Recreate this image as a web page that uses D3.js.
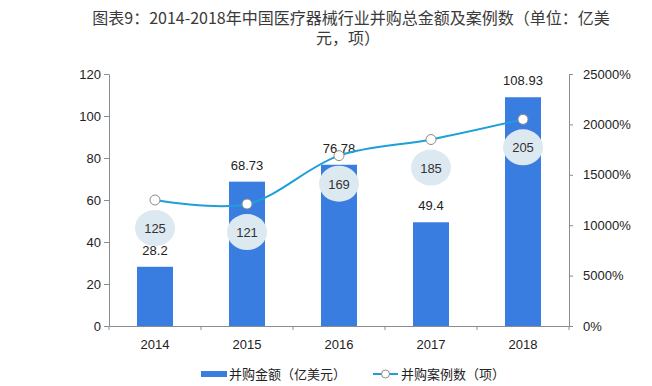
<!DOCTYPE html>
<html>
<head>
    <meta charset="utf-8">
    <title>medtech m&a</title>
    <script src="https://d3js.org/d3.v7.min.js"></script>
    <style>
        body { margin: 0; background: #fff; }
        text { font-family: "Liberation Sans", Arial, sans-serif; }
        .cn { font-family: "Noto Sans CJK SC", sans-serif; }
    </style>
</head>
<body>
    <svg width="652" height="386" id="mainsvg"></svg>
    <script>
        const years = ['2014', '2015', '2016', '2017', '2018'];
        const amounts = [28.2, 68.73, 76.78, 49.4, 108.93];   // 并购金额（亿美元）
        const deals = [125, 121, 169, 185, 205];              // 并购案例数（项）
        const leftTicks = [0, 20, 40, 60, 80, 100, 120];
        const rightTicks = [0, 50, 100, 150, 200, 250];
        const rightLabels = ['0%', '5000%', '10000%', '15000%', '20000%', '25000%'];
        const titleLines = ['图表9：2014-2018年中国医疗器械行业并购总金额及案例数（单位：亿美', '元，项）'];
        const legendNames = ['并购金额（亿美元）', '并购案例数（项）'];

        const svg = d3.select('#mainsvg');
        const pLeft = 109, pRight = 569, pTop = 74, pBottom = 326;
        const axisColor = '#8c8c8c';
        const barColor = '#3a7de0', lineColor = '#1f9fd9', bubbleColor = '#dde9f1';

        const x = d3.scaleBand().domain(years).range([pLeft, pRight]).padding(0);
        const yL = d3.scaleLinear().domain([0, 120]).range([pBottom, pTop]);
        const yR = d3.scaleLinear().domain([0, 250]).range([pBottom, pTop]);

        // title, two separate lines
        svg.append('g').selectAll('text').data(titleLines).enter().append('text')
            .attr('class', 'cn')
            .attr('x', (d, i) => i ? 348 : 351)
            .attr('y', (d, i) => 24 + i * 20)
            .attr('text-anchor', 'middle')
            .attr('font-size', 16).attr('fill', '#3a3a3a')
            .text(d => d);

        // bars
        const bw = 36;
        svg.append('g').selectAll('rect').data(amounts).enter().append('rect')
            .attr('x', (d, i) => x(years[i]) + x.bandwidth() / 2 - bw / 2)
            .attr('y', d => yL(d))
            .attr('width', bw)
            .attr('height', d => pBottom - yL(d))
            .attr('fill', barColor);

        svg.append('g').selectAll('text').data(amounts).enter().append('text')
            .attr('x', (d, i) => x(years[i]) + x.bandwidth() / 2)
            .attr('y', d => yL(d) - 12)
            .attr('text-anchor', 'middle')
            .attr('font-size', 13).attr('fill', '#222')
            .text(d => d);

        // axes
        const axL = svg.append('g').attr('transform', `translate(${pLeft},0)`)
            .call(d3.axisLeft(yL).tickValues(leftTicks).tickSize(5).tickSizeOuter(0).tickPadding(3));
        const axR = svg.append('g').attr('transform', `translate(${pRight},0)`)
            .call(d3.axisRight(yR).tickValues(rightTicks).tickSize(4).tickSizeOuter(0).tickPadding(10)
                .tickFormat((d, i) => rightLabels[i]));
        const axB = svg.append('g').attr('transform', `translate(0,${pBottom})`)
            .call(d3.axisBottom(x).tickSize(0).tickSizeOuter(0).tickPadding(14));
        [axL, axR, axB].forEach(a => {
            a.select('.domain').attr('stroke', axisColor);
            a.selectAll('.tick line').attr('stroke', axisColor);
            a.selectAll('.tick text').attr('font-size', 13).attr('fill', '#222')
                .attr('font-family', '"Liberation Sans", Arial, sans-serif');
        });
        // category boundary ticks
        svg.append('g').selectAll('line').data(d3.range(years.length + 1)).enter().append('line')
            .attr('x1', i => pLeft + i * x.step()).attr('x2', i => pLeft + i * x.step())
            .attr('y1', pBottom).attr('y2', pBottom + 4)
            .attr('stroke', axisColor);

        // deal count line
        const pts = deals.map((d, i) => [x(years[i]) + x.bandwidth() / 2, yR(d)]);
        svg.append('path')
            .attr('d', d3.line().curve(d3.curveCatmullRom.alpha(0.5))(pts))
            .attr('fill', 'none').attr('stroke', lineColor).attr('stroke-width', 2);
        svg.append('g').selectAll('circle').data(pts).enter().append('circle')
            .attr('cx', d => d[0]).attr('cy', d => d[1]).attr('r', 5)
            .attr('fill', '#fff').attr('stroke', '#8a8a8a').attr('stroke-width', 1);

        // bubbles with counts
        const bub = svg.append('g').selectAll('g').data(deals).enter().append('g')
            .attr('transform', (d, i) => `translate(${pts[i][0]},${pts[i][1] + 28})`);
        bub.append('ellipse').attr('rx', 20).attr('ry', 18).attr('fill', bubbleColor);
        bub.append('text').attr('text-anchor', 'middle').attr('y', 5)
            .attr('font-size', 13).attr('fill', '#333').text(d => d);

        // legend
        const lg = svg.append('g');
        lg.append('rect').attr('x', 201).attr('y', 371).attr('width', 26).attr('height', 6).attr('fill', barColor);
        lg.append('text').attr('class', 'cn').attr('x', 229).attr('y', 379)
            .attr('font-size', 13).attr('fill', '#222').text(legendNames[0]);
        lg.append('line').attr('x1', 373).attr('x2', 398).attr('y1', 374).attr('y2', 374)
            .attr('stroke', lineColor).attr('stroke-width', 2);
        lg.append('circle').attr('cx', 385.5).attr('cy', 374).attr('r', 4)
            .attr('fill', '#fff').attr('stroke', '#8a8a8a');
        lg.append('text').attr('class', 'cn').attr('x', 401).attr('y', 379)
            .attr('font-size', 13).attr('fill', '#222').text(legendNames[1]);
    </script>
</body>
</html>
